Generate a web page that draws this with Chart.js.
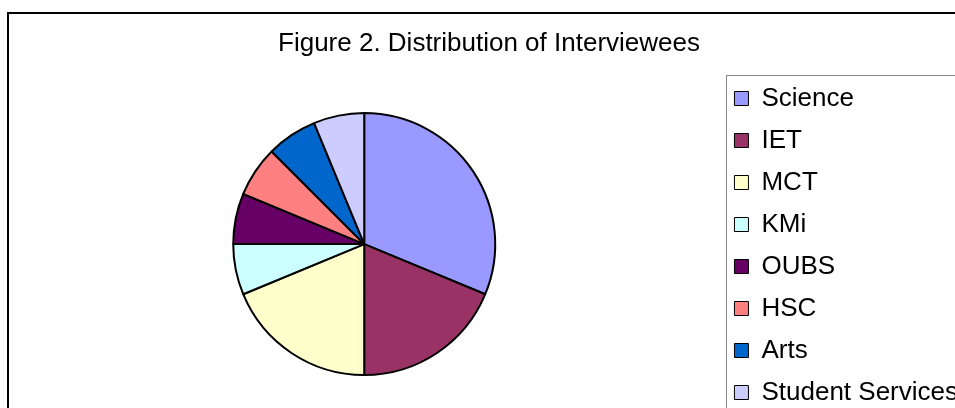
<!DOCTYPE html>
<html>
<head>
<meta charset="utf-8">
<script src="https://cdn.jsdelivr.net/npm/chart.js@4/dist/chart.umd.min.js"></script>
<style>
  html, body { margin: 0; padding: 0; background: #fff; overflow: hidden; width: 955px; height: 408px; }
  #frame { position: absolute; left: 7px; top: 12px; border: 2px solid #000; width: 959px; height: 415px; overflow: hidden; }
  #box { position: relative; width: 959px; height: 415px; }
</style>
</head>
<body>
<div id="frame"><div id="box"><canvas id="c"></canvas></div></div>
<script>
const categories = ['Science', 'IET', 'MCT', 'KMi', 'OUBS', 'HSC', 'Arts', 'Student Services'];
const interviewees = [5, 3, 3, 1, 1, 1, 1, 1];
const sliceColors = ['#9999FF', '#993366', '#FFFFCC', '#CCFFFF', '#660066', '#FF8080', '#0066CC', '#CCCCFF'];
const chartTitle = 'Figure 2. Distribution of Interviewees';

const FONT = "'Liberation Sans', Arial, Helvetica, sans-serif";

const legendFrame = {
  id: 'legendFrame',
  afterDraw(chart) {
    const lg = chart.legend;
    if (!lg) return;
    const ctx = chart.ctx;
    ctx.save();
    ctx.strokeStyle = '#888888';
    ctx.lineWidth = 1;
    ctx.strokeRect(Math.round(lg.left) + 8.5, 61.5, 400, 500);
    ctx.restore();
  }
};

new Chart(document.getElementById('c'), {
  type: 'pie',
  data: {
    labels: categories,
    datasets: [{
      data: interviewees,
      backgroundColor: sliceColors,
      borderColor: '#000000',
      borderWidth: 2
    }]
  },
  options: {
    responsive: true,
    maintainAspectRatio: false,
    animation: false,
    radius: 131,
    layout: { padding: { left: 1, right: 0, top: 0, bottom: 0 } },
    plugins: {
      title: {
        display: true,
        text: chartTitle,
        color: '#000',
        font: { family: FONT, size: 26, weight: 'normal' },
        padding: { top: 14, bottom: 0 }
      },
      legend: {
        display: true,
        position: 'right',
        align: 'start',
        title: {
          display: true,
          text: '',
          font: { family: FONT, size: 26 },
          padding: { top: 24.3, bottom: 0 }
        },
        labels: {
          color: '#000',
          font: { family: FONT, size: 26 },
          boxWidth: 14,
          boxHeight: 14,
          padding: 16,
          generateLabels(chart) {
            const items = Chart.overrides.pie.plugins.legend.labels.generateLabels(chart);
            items.forEach(it => { it.lineWidth = 1; it.strokeStyle = '#000'; });
            return items;
          }
        }
      },
      tooltip: { enabled: false }
    }
  },
  plugins: [legendFrame]
});
</script>
</body>
</html>
